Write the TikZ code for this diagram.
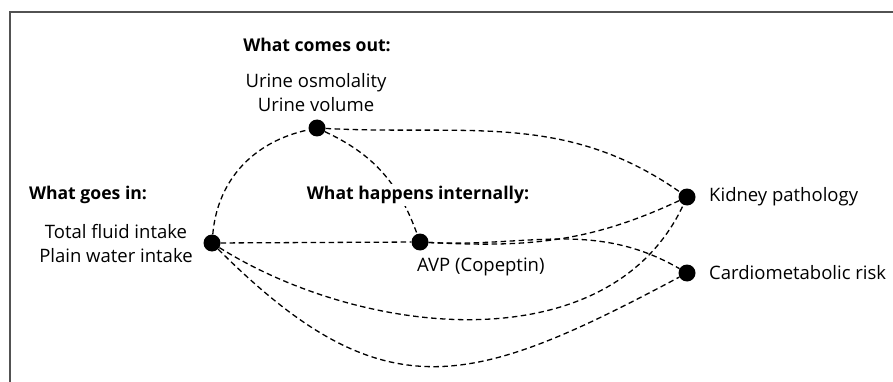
\documentclass[tikz,border=0pt]{standalone}
\usepackage{fontspec}
\setmainfont{Open Sans}
\begin{document}
\begin{tikzpicture}[x=1pt,y=-1pt,
  dot/.style={circle,fill=black,minimum size=17pt,inner sep=0pt},
  lbl/.style={font=\fontsize{18.5}{24}\selectfont,inner sep=1pt,align=center},
  hdr/.style={font=\fontsize{17.6}{24}\selectfont\bfseries,inner sep=2pt,fill=white},
  link/.style={dashed,dash pattern=on 5.5pt off 3.5pt,line width=1.3pt}]
\useasboundingbox (0,0) rectangle (893,382);
\draw[line width=2pt,color=black!68] (10,383) -- (10,12) -- (894,12);
% dots
\node[dot] (in) at (212,243) {};
\node[dot] (out) at (317,128) {};
\node[dot] (avp) at (420,242) {};
\node[dot] (kid) at (687,197) {};
\node[dot] (card) at (687,273) {};
% connectors
\draw[link] (in) to[out=85,in=192] (out);
\draw[link] (out) to[out=-25,in=110] (avp);
\draw[link] (out) to[out=-3,in=145] (kid);
\draw[link] (in) -- (avp);
\draw[link] (avp) to[out=-3,in=-155] (kid);
\draw[link] (avp) to[out=-3,in=150] (card);
\draw[link] (in) to[out=-32,in=-115,looseness=0.95] (kid);
\draw[link] (in) to[out=-45,in=-152,looseness=1.3] (card);
% labels
\node[hdr] (hout) at (317,45) {What comes out:};
\node[lbl] (tout) at (316,93) {Urine osmolality\\Urine volume};
\node[hdr] (hin) at (88,195) {What goes in:};
\node[lbl] (tin) at (116,244) {Total fluid intake\\Plain water intake};
\node[hdr] (hint) at (418,195) {What happens internally:};
\node[lbl,anchor=west] (tavp) at (416,267) {AVP (Copeptin)};
\node[lbl,anchor=west] (tkid) at (708,197) {Kidney pathology};
\node[lbl,anchor=west] (tcard) at (708,273) {Cardiometabolic risk};
\end{tikzpicture}
\end{document}
